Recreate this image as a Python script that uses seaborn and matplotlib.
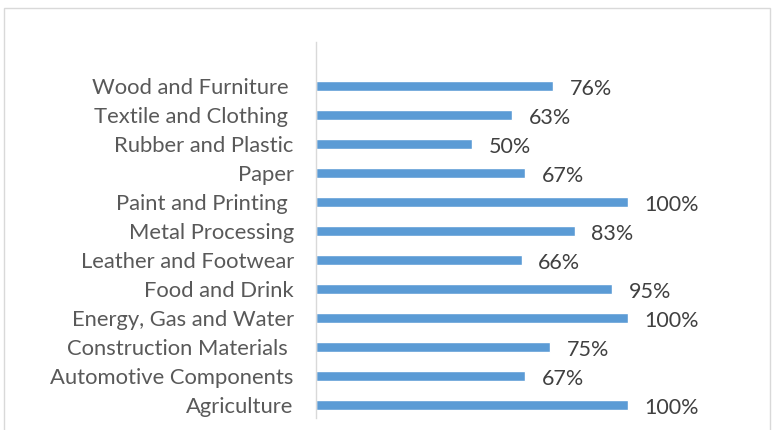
import matplotlib
matplotlib.use("Agg")
import matplotlib.pyplot as plt
from matplotlib.patches import Rectangle
import seaborn as sns

categories = [
    "Wood and Furniture ",
    "Textile and Clothing ",
    "Rubber and Plastic",
    "Paper",
    "Paint and Printing ",
    "Metal Processing",
    "Leather and Footwear",
    "Food and Drink",
    "Energy, Gas and Water",
    "Construction Materials ",
    "Automotive Components",
    "Agriculture",
]
shares = [76, 63, 50, 67, 100, 83, 66, 95, 100, 75, 67, 100]

sns.set_theme(style="white")
plt.rcParams["font.family"] = ["Lato", "DejaVu Sans"]

fig = plt.figure(figsize=(7.74, 4.30), dpi=100)
ax = fig.add_axes([316 / 774, 12 / 430, (690 - 316) / 774, (418 - 42) / 430])

sns.barplot(x=shares, y=categories, color="#5B9BD5", width=0.35,
            saturation=1, ax=ax, orient="h")

ax.set_xlim(0, 120)
ax.set_ylim(len(categories) - 1 + 0.45, -1.52)
for i, v in enumerate(shares):
    ax.annotate(f"{v}%", (v, i), xytext=(12, -2), textcoords="offset points",
                ha="left", va="center", fontsize=15.5, color="#404040")

ax.set_xticks([])
ax.tick_params(axis="y", length=0, pad=16, labelsize=15.8, labelcolor="#595959")
for side in ("top", "right", "bottom"):
    ax.spines[side].set_visible(False)
ax.spines["left"].set_color("#D9D9D9")
ax.spines["left"].set_linewidth(1)
ax.set_xlabel("")
ax.set_ylabel("")

fig.patches.append(Rectangle((4 / 774, -0.1), 766 / 774, 1.1 - 8 / 430,
                             transform=fig.transFigure, fill=False,
                             edgecolor="#D9D9D9", linewidth=1))

fig.savefig("out.png", dpi=100)
